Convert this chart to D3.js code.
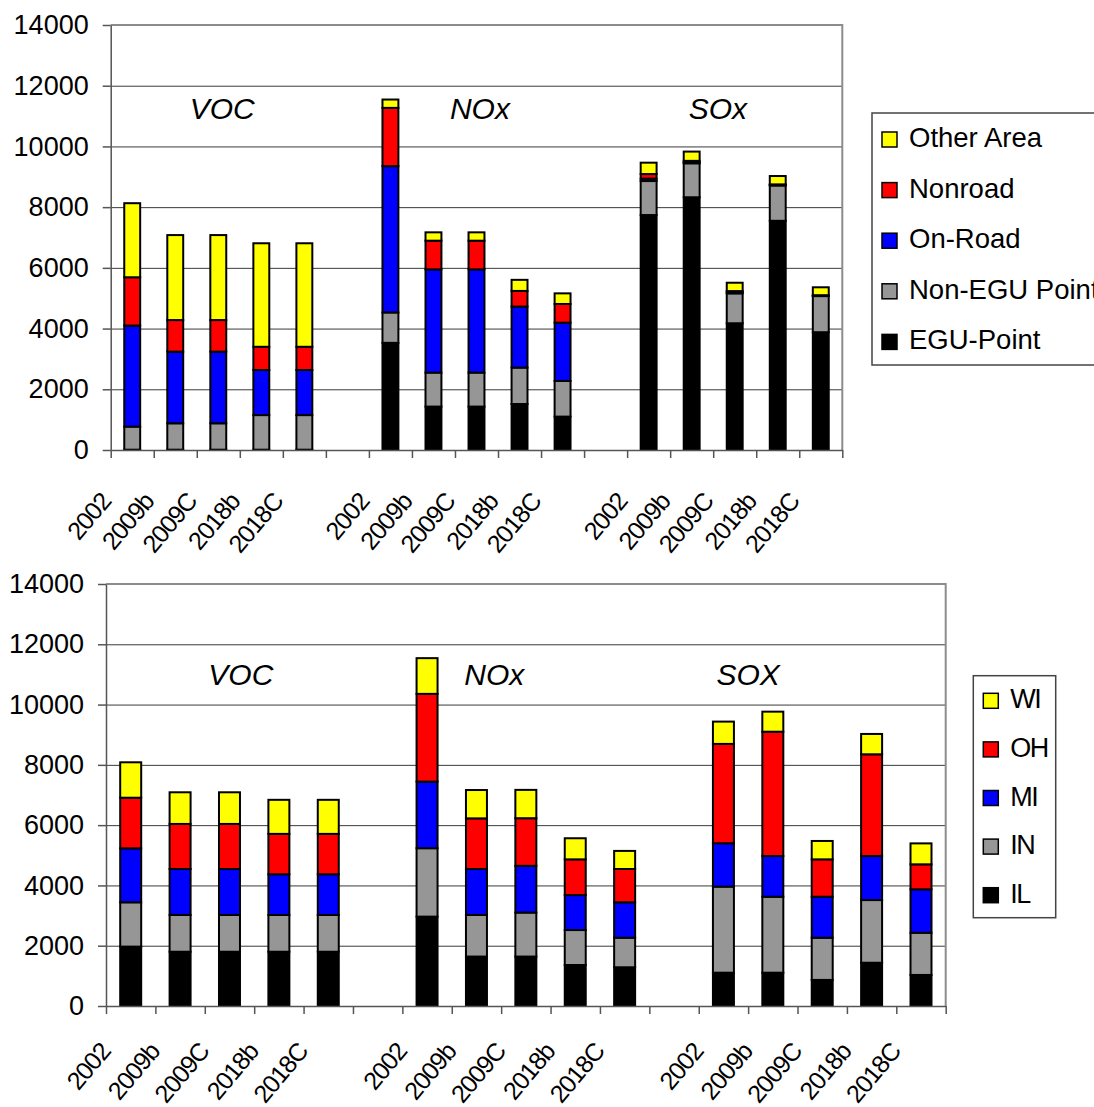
<!DOCTYPE html>
<html>
<head>
<meta charset="utf-8">
<script src="https://cdn.jsdelivr.net/npm/d3@7"></script>
<style>
  body { margin: 0; background: #fff; }
  text { font-family: "Liberation Sans", Arial, sans-serif; fill: #000; }
</style>
</head>
<body>
<svg id="chart" width="1094" height="1107"></svg>
<script>
// ---- data -------------------------------------------------------------
const scenarios = ["2002", "2009b", "2009C", "2018b", "2018C"];
const pollutantsBySector = ["VOC", "NOx", "SOx"];
const pollutantsByState = ["VOC", "NOx", "SOX"];
const yTicks = [0, 2000, 4000, 6000, 8000, 10000, 12000, 14000];

// Emissions by source sector (values listed VOC x5, NOx x5, SOx x5)
const sectorKeys = ["EGU-Point", "Non-EGU Point", "On-Road", "Nonroad", "Other Area"];
const eguPoint    = [10, 10, 10, 10, 10,        3530, 1430, 1430, 1515, 1100,   7740, 8325, 4175, 7550, 3880];
const nonEguPoint = [760, 870, 870, 1140, 1140, 1000, 1120, 1120, 1200, 1175,   1120, 1120, 985, 1165, 1190];
const onRoad      = [3330, 2360, 2360, 1485, 1485, 4820, 3400, 3400, 2010, 1920, 80, 30, 30, 10, 10];
const nonroad     = [1590, 1040, 1040, 765, 765, 1920, 945, 945, 515, 615,      150, 50, 45, 25, 20];
const otherArea   = [2440, 2800, 2800, 3410, 3410, 275, 275, 275, 365, 350,     375, 305, 275, 275, 260];
const sectorColors = ["#000000", "#969696", "#0000FF", "#FF0000", "#FFFF00"];

// Emissions by state (values listed VOC x5, NOx x5, SOX x5)
const stateKeys = ["IL", "IN", "MI", "OH", "WI"];
const stateIL = [1970, 1800, 1800, 1800, 1800, 2965, 1640, 1640, 1360, 1285, 1105, 1105, 865, 1435, 1030];
const stateIN = [1470, 1220, 1220, 1220, 1220, 2270, 1380, 1460, 1160, 980,  2855, 2520, 1400, 2080, 1400];
const stateMI = [1790, 1525, 1525, 1350, 1350, 2210, 1525, 1550, 1160, 1175, 1440, 1350, 1360, 1460, 1440];
const stateOH = [1680, 1495, 1495, 1340, 1340, 2910, 1680, 1580, 1185, 1105, 3295, 4125, 1240, 3375, 830];
const stateWI = [1175, 1050, 1050, 1130, 1130, 1185, 940, 940, 700, 600,     740, 665, 610, 675, 695];
const stateColors = ["#000000", "#969696", "#0000FF", "#FF0000", "#FFFF00"];

// ---- drawing ----------------------------------------------------------
const svg = d3.select("#chart");

function buildRows(pollutants, keys, columns) {
  const rows = [];
  pollutants.forEach((p, gi) => {
    if (gi > 0) rows.push({ slot: "gap" + gi, label: "", gap: true });
    scenarios.forEach((s, si) => {
      const r = { slot: p + " " + s, label: s, gap: false };
      keys.forEach((k, ki) => { r[k] = columns[ki][gi * scenarios.length + si]; });
      rows.push(r);
    });
  });
  return rows;
}

function drawPanel(cfg) {
  const rows = buildRows(cfg.pollutants, cfg.keys, cfg.columns);
  const g = svg.append("g");

  const x = d3.scaleBand()
    .domain(rows.map(r => r.slot))
    .range([cfg.left, cfg.right])
    .paddingInner(cfg.pad)
    .paddingOuter(cfg.pad / 2);
  const slotX = d3.scaleLinear().domain([0, rows.length]).range([cfg.left, cfg.right]);
  const y = d3.scaleLinear().domain([0, 14000]).range([cfg.bottom, cfg.top]);

  // gridlines
  g.append("g")
    .attr("transform", `translate(${cfg.left},0)`)
    .call(d3.axisLeft(y).tickValues(yTicks.slice(1, -1)).tickSize(-(cfg.right - cfg.left)).tickFormat(""))
    .call(a => a.select(".domain").remove())
    .call(a => a.selectAll("line").attr("stroke", "#3a3a3a").attr("stroke-width", 1));

  // plot frame (top and right)
  g.append("path")
    .attr("d", `M${cfg.left},${y(14000)}H${cfg.right}V${y(0)}`)
    .attr("fill", "none").attr("stroke", "#8c8c8c").attr("stroke-width", 2);

  // stacked bars
  const stacked = d3.stack().keys(cfg.keys)(rows.filter(r => !r.gap));
  g.append("g").selectAll("g")
    .data(stacked)
    .join("g")
      .attr("fill", (d, i) => cfg.colors[i])
    .selectAll("rect")
    .data(d => d)
    .join("rect")
      .attr("x", d => x(d.data.slot))
      .attr("width", x.bandwidth())
      .attr("y", d => y(d[1]))
      .attr("height", d => y(d[0]) - y(d[1]))
      .attr("stroke", "#000")
      .attr("stroke-width", 2);

  // y axis
  g.append("g")
    .attr("transform", `translate(${cfg.left},0)`)
    .call(d3.axisLeft(y).tickValues(yTicks).tickSize(8).tickSizeOuter(0).tickPadding(14).tickFormat(d3.format("d")))
    .call(a => a.selectAll("path,line").attr("stroke", "#555").attr("stroke-width", 1.5))
    .call(a => a.selectAll("text").attr("font-size", 27).attr("font-family", "Liberation Sans, Arial, sans-serif").attr("fill", "#000"));

  // x axis: tick marks on slot boundaries
  g.append("g")
    .attr("transform", `translate(0,${cfg.bottom})`)
    .call(d3.axisBottom(slotX).tickValues(d3.range(rows.length + 1)).tickSize(8).tickSizeOuter(0).tickFormat(""))
    .call(a => a.selectAll("path,line").attr("stroke", "#555").attr("stroke-width", 1.5));

  // x axis: rotated scenario labels
  const labelOf = new Map(rows.map(r => [r.slot, r.label]));
  g.append("g")
    .attr("transform", `translate(0,${cfg.bottom})`)
    .call(d3.axisBottom(x).tickSize(0).tickFormat(k => labelOf.get(k)))
    .call(a => a.select(".domain").remove())
    .call(a => a.selectAll("text")
      .attr("font-size", 25)
      .attr("letter-spacing", -1)
      .attr("font-family", "Liberation Sans, Arial, sans-serif")
      .attr("fill", "#000")
      .attr("text-anchor", "end")
      .attr("x", null).attr("y", null).attr("dy", null)
      .attr("transform", `translate(${cfg.labelDx},${cfg.labelDy}) rotate(-50)`));

  // pollutant group captions
  g.append("g").selectAll("text")
    .data(cfg.pollutants)
    .join("text")
      .attr("x", (d, i) => slotX(cfg.captionSlots[i]))
      .attr("y", y(cfg.captionValue))
      .attr("text-anchor", "middle")
      .attr("font-size", 30)
      .attr("font-style", "italic")
      .text(d => d);

  // legend (top entry = last stacked series)
  const lg = svg.append("g");
  lg.append("rect")
    .attr("x", cfg.legend.x).attr("y", cfg.legend.y)
    .attr("width", cfg.legend.w).attr("height", cfg.legend.h)
    .attr("fill", "#fff").attr("stroke", "#444").attr("stroke-width", 1.5);
  const entries = cfg.keys.map((k, i) => ({ k, c: cfg.colors[i] })).reverse();
  const item = lg.selectAll("g.item")
    .data(entries)
    .join("g")
      .attr("class", "item")
      .attr("transform", (d, i) => `translate(${cfg.legend.x + 10},${cfg.legend.firstBaseline + i * cfg.legend.step})`);
  item.append("rect")
    .attr("x", 0).attr("y", -15).attr("width", 15).attr("height", 15)
    .attr("fill", d => d.c).attr("stroke", "#000").attr("stroke-width", 1.5);
  item.append("text")
    .attr("x", 27).attr("y", 0)
    .attr("font-size", cfg.legend.fontSize)
    .attr("letter-spacing", cfg.legend.letterSpacing)
    .text(d => d.k);
}

drawPanel({
  pollutants: pollutantsBySector,
  keys: sectorKeys,
  columns: [eguPoint, nonEguPoint, onRoad, nonroad, otherArea],
  colors: sectorColors,
  left: 110.7, right: 842.3, top: 25, bottom: 450,
  pad: 0.63,
  labelDx: -20, labelDy: 52,
  captionSlots: [2.59, 8.58, 14.11], captionValue: 10900,
  legend: { x: 872, y: 113, w: 240, h: 252, firstBaseline: 147, step: 50.6, fontSize: 27.5, letterSpacing: 0 }
});

drawPanel({
  pollutants: pollutantsByState,
  keys: stateKeys,
  columns: [stateIL, stateIN, stateMI, stateOH, stateWI],
  colors: stateColors,
  left: 106, right: 945.7, top: 584, bottom: 1006,
  pad: 0.575,
  labelDx: -19, labelDy: 46,
  captionSlots: [2.73, 7.86, 13.0], captionValue: 10650,
  legend: { x: 973.3, y: 675.7, w: 82.4, h: 242, firstBaseline: 708.3, step: 48.6, fontSize: 27, letterSpacing: -1.5 }
});
</script>
</body>
</html>
